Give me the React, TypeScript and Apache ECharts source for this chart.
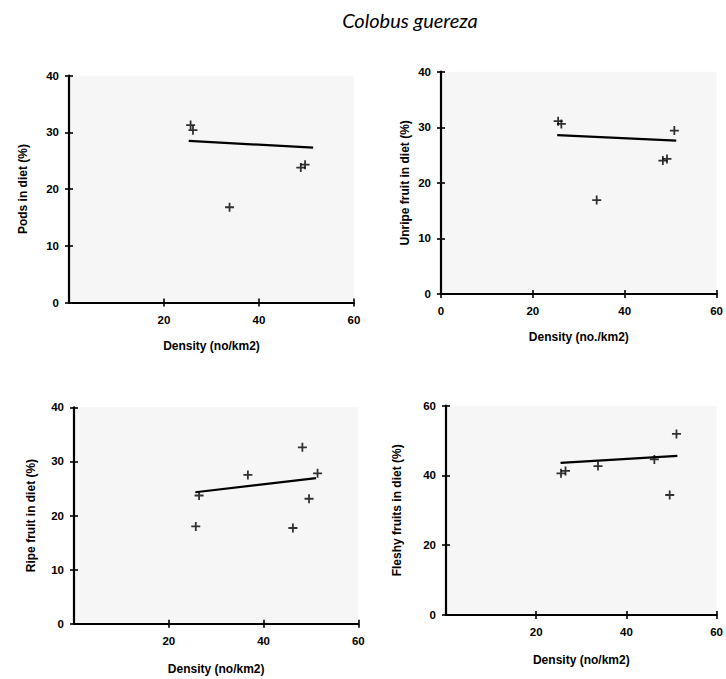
import React, { useEffect, useRef } from "react";
import * as echarts from "echarts";

const TITLE = "Colobus guereza";

// Panel 1: Pods
const podsX = [25.6, 26.1, 33.8, 48.8, 49.7];
const podsY = [31.3, 30.4, 16.8, 23.8, 24.3];
const podsFitX = [25.2, 51.4];
const podsFitY = [28.5, 27.3];

// Panel 2: Unripe fruit
const unripeX = [25.5, 26.2, 33.9, 48.3, 49.2, 50.8];
const unripeY = [31.1, 30.6, 16.9, 24.0, 24.3, 29.4];
const unripeFitX = [25.3, 51.2];
const unripeFitY = [28.6, 27.6];

// Panel 3: Ripe fruit
const ripeX = [25.7, 26.4, 36.7, 46.2, 48.2, 49.6, 51.4];
const ripeY = [18.0, 23.7, 27.5, 17.7, 32.6, 23.1, 27.8];
const ripeFitX = [25.6, 51.1];
const ripeFitY = [24.3, 26.9];

// Panel 4: Fleshy fruits
const fleshyX = [25.5, 26.5, 33.7, 46.2, 49.6, 51.1];
const fleshyY = [40.6, 41.3, 42.7, 44.6, 34.4, 51.9];
const fleshyFitX = [25.4, 51.3];
const fleshyFitY = [43.6, 45.6];

const xTicks = [0, 20, 40, 60];
const yTicks40 = [0, 10, 20, 30, 40];
const yTicks60 = [0, 20, 40, 60];

const PLUS = "path://M4,0H6V4H10V6H6V10H4V6H0V4H4Z";
const FONT = "Liberation Sans";

type Panel = {
  xs: number[];
  ys: number[];
  fx: number[];
  fy: number[];
  yName: string;
  xName: string;
  yTicks: number[];
  showX0: boolean;
  grid: { left: number; top: number; width: number; height: number };
  yGap: number;
  xGap: number;
};

const panels: Panel[] = [
  {
    xs: podsX, ys: podsY, fx: podsFitX, fy: podsFitY,
    yName: "Pods in diet (%)", xName: "Density (no/km2)",
    yTicks: yTicks40, showX0: false,
    grid: { left: 69, top: 75.7, width: 285, height: 226.8 },
    yGap: 40, xGap: 37,
  },
  {
    xs: unripeX, ys: unripeY, fx: unripeFitX, fy: unripeFitY,
    yName: "Unripe fruit in diet (%)", xName: "Density (no./km2)",
    yTicks: yTicks40, showX0: true,
    grid: { left: 441, top: 71.7, width: 278, height: 222.3 },
    yGap: 30, xGap: 37,
  },
  {
    xs: ripeX, ys: ripeY, fx: ripeFitX, fy: ripeFitY,
    yName: "Ripe fruit in diet (%)", xName: "Density (no/km2)",
    yTicks: yTicks40, showX0: false,
    grid: { left: 74, top: 407.3, width: 284.3, height: 216.5 },
    yGap: 37, xGap: 39,
  },
  {
    xs: fleshyX, ys: fleshyY, fx: fleshyFitX, fy: fleshyFitY,
    yName: "Fleshy fruits in diet (%)", xName: "Density (no/km2)",
    yTicks: yTicks60, showX0: false,
    grid: { left: 446, top: 405.7, width: 272.5, height: 209.3 },
    yGap: 43, xGap: 39,
  },
];

export default function App() {
  const ref = useRef<HTMLDivElement>(null);
  useEffect(() => {
    if (!ref.current) return;
    const chart = echarts.init(ref.current, undefined, { renderer: "svg" });
    const grids: any[] = [];
    const xAxes: any[] = [];
    const yAxes: any[] = [];
    const series: any[] = [];
    const labelStyle = {
      color: "#000",
      fontFamily: FONT,
      fontWeight: "bold",
      fontSize: 11.5,
    };
    const nameStyle = { ...labelStyle, fontSize: 12 };
    panels.forEach((p, i) => {
      grids.push({
        ...p.grid,
        show: true,
        backgroundColor: "#f6f6f6",
        borderWidth: 0,
        borderColor: "transparent",
      });
      const xMin = xTicks[0];
      const xMax = xTicks[xTicks.length - 1];
      const xInt = xTicks[1] - xTicks[0];
      const yMin = p.yTicks[0];
      const yMax = p.yTicks[p.yTicks.length - 1];
      const yInt = p.yTicks[1] - p.yTicks[0];
      xAxes.push({
        gridIndex: i,
        type: "value",
        position: "bottom",
        min: xMin,
        max: xMax,
        interval: xInt,
        name: p.xName,
        nameLocation: "middle",
        nameGap: p.xGap,
        nameTextStyle: nameStyle,
        axisLine: { show: true, onZero: false, lineStyle: { color: "#000", width: 2.2 } },
        axisTick: { show: true, inside: false, length: 4, lineStyle: { color: "#000", width: 1.6 } },
        axisLabel: { ...labelStyle, margin: 11, showMinLabel: p.showX0 },
        splitLine: { show: false },
      });
      xAxes.push({
        gridIndex: i,
        type: "value",
        position: "bottom",
        min: xMin,
        max: xMax,
        interval: xInt,
        axisLine: { show: false, onZero: false },
        axisTick: { show: true, inside: true, length: 4, lineStyle: { color: "#000", width: 1.6 } },
        axisLabel: { show: false },
        splitLine: { show: false },
      });
      yAxes.push({
        gridIndex: i,
        type: "value",
        position: "left",
        min: yMin,
        max: yMax,
        interval: yInt,
        name: p.yName,
        nameLocation: "middle",
        nameGap: p.yGap,
        nameTextStyle: nameStyle,
        axisLine: { show: true, onZero: false, lineStyle: { color: "#000", width: 2.2 } },
        axisTick: { show: true, inside: false, length: 4, lineStyle: { color: "#000", width: 1.6 } },
        axisLabel: { ...labelStyle, margin: 10 },
        splitLine: { show: false },
      });
      yAxes.push({
        gridIndex: i,
        type: "value",
        position: "left",
        min: yMin,
        max: yMax,
        interval: yInt,
        axisLine: { show: false, onZero: false },
        axisTick: { show: true, inside: true, length: 4, lineStyle: { color: "#000", width: 1.6 } },
        axisLabel: { show: false },
        splitLine: { show: false },
      });
      series.push({
        type: "line",
        xAxisIndex: 2 * i,
        yAxisIndex: 2 * i,
        data: p.fx.map((x, k) => [x, p.fy[k]]),
        symbol: "none",
        lineStyle: { color: "#000", width: 2.2 },
        silent: true,
      });
      series.push({
        type: "scatter",
        xAxisIndex: 2 * i,
        yAxisIndex: 2 * i,
        data: p.xs.map((x, k) => [x, p.ys[k]]),
        symbol: PLUS,
        symbolSize: 9,
        itemStyle: { color: "#000" },
      });
    });
    chart.setOption({
      animation: false,
      backgroundColor: "#ffffff",
      grid: grids,
      xAxis: xAxes,
      yAxis: yAxes,
      series,
      graphic: [
        {
          type: "text",
          x: 410,
          y: 20,
          style: {
            text: TITLE,
            fontFamily: "Lato",
            fontStyle: "italic",
            fontSize: 20,
            fill: "#000",
            align: "center",
            verticalAlign: "middle",
          },
        },
      ],
    });
    return () => chart.dispose();
  }, []);
  return (
    <div
      ref={ref}
      style={{ position: "fixed", left: 0, top: 0, width: 726, height: 679 }}
    />
  );
}
